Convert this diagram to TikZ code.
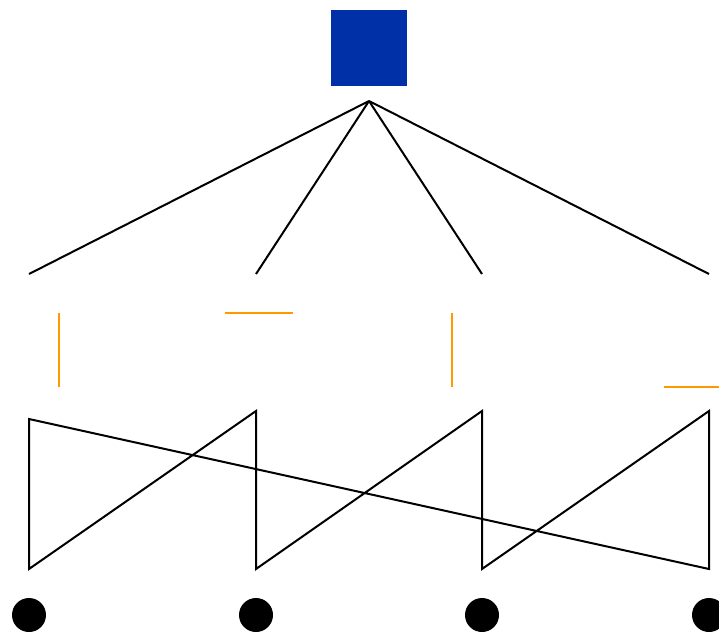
\documentclass[tikz,border=0pt]{standalone}
\definecolor{sqblue}{RGB}{0,48,168}
\definecolor{orng}{RGB}{255,153,0}
\begin{document}
\begin{tikzpicture}[x=1pt,y=-1pt,
  blk/.style={draw=black,line width=2pt},
  org/.style={draw=orng,line width=2pt},
  dot/.style={circle,fill=black,inner sep=0pt,minimum size=34pt}]
\useasboundingbox (0,0) rectangle (719,631);
\clip (0,0) rectangle (719,631);
\node[fill=sqblue,inner sep=0pt,minimum size=76pt] (sq) at (369,48) {};
\coordinate (apex) at (369,101);
\coordinate (t1) at (29,274);
\coordinate (t2) at (256,274);
\coordinate (t3) at (482,274);
\coordinate (t4) at (709,274);
\foreach \t in {t1,t2,t3,t4} \draw[blk] (apex) -- (\t);
% orange marks
\coordinate (o1a) at (59,313); \coordinate (o1b) at (59,387);
\coordinate (o2a) at (225,313); \coordinate (o2b) at (293,313);
\coordinate (o3a) at (452,313); \coordinate (o3b) at (452,387);
\coordinate (o4a) at (664,387); \coordinate (o4b) at (740,387);
\draw[org] (o1a) -- (o1b);
\draw[org] (o2a) -- (o2b);
\draw[org] (o3a) -- (o3b);
\draw[org] (o4a) -- (o4b);
% zigzag polygon
\coordinate (z1) at (29,419); \coordinate (z2) at (29,569);
\coordinate (z3) at (256,411); \coordinate (z4) at (256,569);
\coordinate (z5) at (482,411); \coordinate (z6) at (482,569);
\coordinate (z7) at (709,411); \coordinate (z8) at (709,569);
\draw[blk,line join=miter] (z1) -- (z2) -- (z3) -- (z4) -- (z5) -- (z6) -- (z7) -- (z8) -- cycle;
% dots
\node[dot] (d1) at (29,615) {};
\node[dot] (d2) at (256,615) {};
\node[dot] (d3) at (482,615) {};
\node[dot] (d4) at (709,615) {};
\end{tikzpicture}
\end{document}
